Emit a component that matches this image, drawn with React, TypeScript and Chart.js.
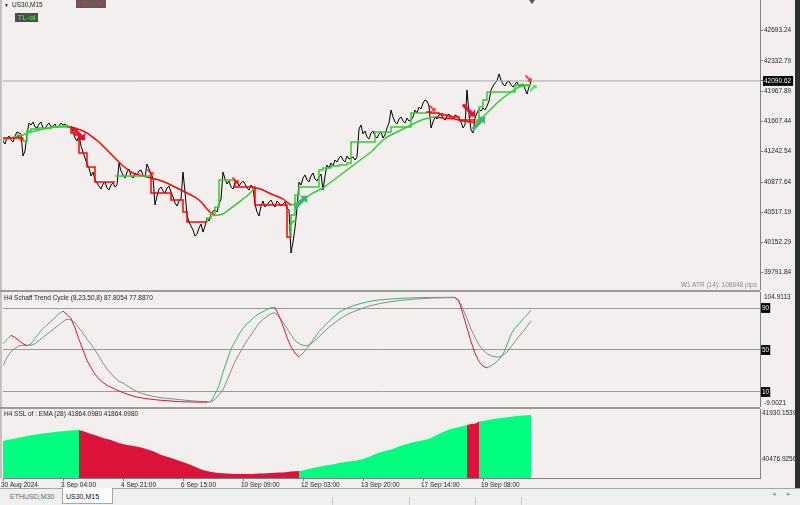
import React, { useEffect, useRef } from 'react';
import { Chart, registerables } from 'chart.js';

Chart.register(...registerables);

const BG = '#f2efee';
const FONT = "'Liberation Sans', Arial, sans-serif";
const AXIS_TEXT = '#1e1e1e';
const FRAME = '#808080';
const RED = '#ff0000';
const GREEN = '#32cd32';
const TICK_FONT = { family: FONT, size: 6.5 };

// ---- time axis (one slot = one sampled M15 position) ----
const timeLabels = ['30 Aug 2024', '3 Sep 04:00', '4 Sep 21:00', '6 Sep 15:00', '10 Sep 09:00', '12 Sep 03:00', '13 Sep 20:00', '17 Sep 14:00', '19 Sep 08:00'];
const timeLabelSlots = [0, 15, 30, 45, 60, 75, 90, 105, 120];
const visibleSlots = 189.25;

// ---- main pane: US30 M15 closes (on each slot and half-way between slots) ----
const closeOnSlot = [
  41371, 41407, 41383, 41431, 41467, 41191, 41455, 41562, 41539, 41574,
  41527, 41562, 41539, 41574, 41551, 41562, 41539, 41551, 41407, 41431,
  41239, 41095, 40951, 40903, 40831, 40855, 40807, 40843, 40819, 41107,
  40963, 40999, 40951, 40987, 41011, 40963, 41095, 40975, 40603, 40795,
  40771, 40807, 40759, 40627, 40651, 40999, 40483, 40351, 40231, 40327,
  40279, 40447, 40495, 40543, 40615, 40999, 40855, 40819, 40867, 40831,
  40891, 40807, 40843, 40615, 40471, 40651, 40603, 40663, 40579, 40627,
  40615, 40567, 40028, 40327, 40879, 40927, 40903, 40951, 40915, 40939,
  40783, 41083, 41107, 41143, 41167, 41143, 41191, 41167, 41143, 41515,
  41455, 41419, 41467, 41431, 41455, 41407, 41527, 41742, 41598, 41634,
  41610, 41646, 41622, 41742, 41778, 41826, 41850, 41527, 41658, 41682,
  41646, 41670, 41658, 41682, 41646, 41527, 41982, 41503, 41646, 41754,
  41766, 41790, 41982, 42066, 42174, 42054, 42078, 42042, 42054, 42030,
  42054, 41934, 42090.62,
];
const closeHalfSlot = [
  41335, 41431, 41359, 41479, 41455, 41251, 41586, 41598, 41527, 41598,
  41515, 41586, 41551, 41527, 41586, 41574, 41527, 41479, 41371, 41311,
  41167, 41047, 40999, 40867, 40795, 40879, 40783, 40867, 40843, 41011,
  40927, 41035, 40927, 40963, 41023, 40939, 41035, 40927, 40711, 40819,
  40747, 40831, 40699, 40591, 40675, 40759, 40399, 40303, 40255, 40375,
  40351, 40411, 40531, 40519, 40675, 40915, 40891, 40795, 40891, 40867,
  40855, 40783, 40807, 40519, 40591, 40579, 40639, 40615, 40651, 40591,
  40639, 40543, 40160, 40567, 40843, 40963, 40879, 40987, 40891, 40975,
  40951, 41047, 41071, 41119, 41191, 41119, 41155, 41179, 41179, 41563,
  41491, 41395, 41491, 41407, 41479, 41443, 41586, 41658, 41574, 41658,
  41586, 41610, 41658, 41706, 41754, 41862, 41790, 41598, 41634, 41694,
  41622, 41694, 41634, 41670, 41598, 41562, 41694, 41467, 41706, 41730,
  41742, 41850, 42030, 42090, 42102, 42030, 42090, 42018, 42078, 42042,
  41994, 42018,
];
const lastPrice = 42090.62;
const priceTicks = [42693.24, 42332.79, 41967.89, 41607.44, 41242.54, 40877.64, 40517.19, 40152.29, 39791.84];
const priceRange = [39584.2, 43061.3];

const maLine = [
  41383, 41395, 41407, 41419, 41431, 41443, 41467, 41479, 41491, 41503,
  41515, 41521, 41527, 41539, 41545, 41551, 41551, 41539, 41527, 41509,
  41491, 41467, 41431, 41395, 41359, 41311, 41263, 41215, 41167, 41119,
  41071, 41035, 40999, 40975, 40963, 40951, 40939, 40927, 40915, 40903,
  40885, 40867, 40843, 40819, 40795, 40771, 40747, 40723, 40699, 40663,
  40615, 40555, 40507, 40478, 40484, 40495, 40531, 40567, 40603, 40639,
  40675, 40711, 40759, 40807, 40801, 40783, 40759, 40735, 40717, 40699,
  40675, 40639, 40603, 40615, 40651, 40675, 40699, 40735, 40759, 40783,
  40807, 40843, 40879, 40915, 40951, 40987, 41023, 41059, 41095, 41131,
  41167, 41203, 41239, 41287, 41335, 41383, 41419, 41443, 41467, 41491,
  41515, 41539, 41563, 41587, 41611, 41629, 41641, 41653, 41659, 41653,
  41647, 41644, 41641, 41635, 41623, 41611, 41605, 41599, 41593, 41611,
  41659, 41706, 41754, 41802, 41850, 41886, 41922, 41958, 41994, 42018,
  42030, 42036, 42042,
];

const _ = null;
const stepDown = [
  41407, 41407, 41407, 41407, 41407, 41407,
  _, _, _, _, _, _, _, _, _, _,
  _,
  41539, 41467, 41443, 41227, 41227, 41059, 41059, 40879, 40879, 40879, 40879, 40879,
  _, _, _, _, _, _, _, _,
  40951, 40747, 40747, 40747, 40747, 40747, 40663, 40663, 40663, 40519, 40400, 40400, 40400, 40400, 40400,
  _, _, _, _, _, _,
  40903, 40819, 40819, 40819, 40819, 40819, 40603, 40603, 40603, 40603, 40603, 40603, 40603, 40603, 40220,
  _, _, _, _, _, _, _, _, _, _,
  _, _, _, _, _, _, _, _, _, _,
  _, _, _, _, _, _, _, _, _, _,
  _, _, _,
  41706, 41718, 41706, 41706, 41694, 41683, 41671, 41659, 41659, 41623, 41623, 41623, 41623,
  _, _, _, _, _, _, _, _, _, _,
  _, _, _, _,
];
const stepUp = [
  _, _, _, _, _,
  41371, 41371, 41491, 41515, 41515, 41527, 41527, 41527, 41539, 41539, 41539, 41539, 41539,
  _, _, _, _, _, _, _, _, _, _,
  40951, 40951, 40951, 40951, 40951, 40951, 40951, 40951, 40951, 40951,
  _, _, _, _, _, _, _, _, _, _,
  _, _, _,
  40400, 40448, 40507, 40579, 40903, 40903, 40903, 40903,
  _, _, _, _, _, _, _, _, _, _,
  _, _, _,
  40220, 40484, 40723, 40819, 40819, 40819, 40819, 40819, 41023, 41047, 41047, 41071, 41071, 41083, 41083, 41107,
  41359, 41359, 41359, 41359, 41359, 41359, 41479, 41479, 41479, 41479, 41539, 41539, 41539, 41539, 41539,
  41706, 41706, 41706, 41706,
  _, _, _, _, _, _, _, _, _, _,
  _,
  41623, 41623, 41778, 41862, 41958, 41958, 41958, 41958, 41958, 41958, 41958, 42042, 42042, 42042, 42042,
];

// signal arrows: [slot, price]
const bigUpArrows = [[74.5, 40639], [119, 41586]];
const bigDownArrows = [[19, 41455], [116.5, 41736]];
const smallDownArrows = [[4.25, 41407], [36.75, 40999], [58, 40903], [107.25, 41766], [131.25, 42126]];
const smallUpArrows = [[72.25, 40387], [132.5, 42006]];
const atrText = 'W1 ATR (14): 108648 pips';

// ---- H4 Schaff Trend Cycle ----
const stcMain = [
  56, 60, 64, 62, 59, 56, 54, 56, 61, 66,
  70.5, 74, 77.5, 81, 84.5, 87, 84, 80, 71, 60,
  50, 40, 33, 27, 22.5, 19, 16.5, 14.5, 12.8, 11,
  9.5, 8, 6.8, 5.6, 4.8, 4.2, 3.6, 3.1, 2.7, 2.3,
  2.0, 1.7, 1.4, 1.1, 0.9, 0.7, 0.6, 0.5, 0.45, 0.4,
  0.35, 0.3, 1, 8, 16, 29, 40, 51, 58, 65,
  70.5, 75, 78.5, 82, 84.5, 86.5, 88.5, 90.3, 90.5, 82.5,
  73, 62, 53, 47, 43.5, 47, 51.5, 57, 62, 67.5,
  71.5, 75.5, 79, 82.5, 86, 88, 89.8, 91.3, 92.7, 93.8,
  94.8, 95.7, 96.5, 97.2, 97.6, 98, 98.3, 98.6, 98.9, 99.1,
  99.3, 99.5, 99.6, 99.7, 99.8, 99.9, 100, 100, 100.1, 100.1,
  100.1, 100.2, 100.2, 100.2, 97, 84, 71, 58, 47, 39,
  34.5, 33, 35, 37.5, 41, 46, 55, 65, 71, 75,
  79.5, 83.5, 87.8054,
];
const stcSignal = [
  35, 43, 48.5, 51.5, 54, 54.5, 54.5, 54.5, 56, 59,
  62, 65, 68, 71, 74, 77, 79.5, 78.5, 76, 71,
  66, 60.5, 55.5, 50, 44, 37.5, 32, 27.5, 23.5, 20,
  18.5, 16, 13.5, 11.5, 9.5, 8.3, 7.2, 6.3, 5.5, 4.8,
  4.3, 3.9, 3.6, 3.2, 2.8, 2.4, 2.0, 1.7, 1.4, 1.1,
  0.9, 0.7, 0.6, 3, 7.5, 12, 21, 30, 39, 46,
  52.5, 59, 64.5, 70, 75.5, 79, 82, 84.5, 85.6, 81.5,
  76.5, 70.5, 64.5, 59, 56, 54.5, 54, 56, 59, 62.5,
  66.5, 70, 73, 76, 79, 81.5, 83.8, 85.5, 87, 88.5,
  90, 91.3, 92.4, 93.2, 94, 94.8, 95.5, 96.1, 96.6, 97,
  97.4, 97.8, 98.2, 98.5, 98.7, 99, 99.2, 99.4, 99.5, 99.6,
  99.7, 99.8, 99.8, 99.8, 96, 89, 80, 70, 62, 55,
  50, 46.5, 44.5, 43.5, 43.3, 45, 48, 53, 58, 63,
  67.5, 72.5, 77.887,
];
const stcLevels = [90, 50, 10];
const stcRange = [-4.29, 105.24];
const stcScaleMax = 104.9113;
const stcScaleMin = -9.0021;

// ---- H4 SSL of EMA(28): bullish / bearish buffers, one value per slot ----
const sslUp = [
  41046, 41077, 41099, 41125, 41153, 41172, 41204, 41226, 41245, 41267,
  41280, 41298, 41314, 41330, 41343, 41355, 41368, 41377, 41387, 41393,
  _, _, _, _, _, _, _, _, _, _,
  _, _, _, _, _, _, _, _, _, _,
  _, _, _, _, _, _, _, _, _, _,
  _, _, _, _, _, _, _, _, _, _,
  _, _, _, _, _, _, _, _, _, _,
  _, _, _, _,
  40098, 40114, 40145, 40177, 40208, 40234, 40256, 40278, 40297, 40319,
  40351, 40373, 40389, 40404, 40423, 40445, 40477, 40524, 40572, 40626,
  40673, 40714, 40745, 40777, 40824, 40872, 40919, 40951, 40989, 41020,
  41046, 41071, 41099, 41140, 41204, 41267, 41330, 41377, 41425, 41456,
  41488, 41519, 41551,
  _, _,
  41662, 41677, 41700, 41725, 41747, 41766, 41782, 41797, 41813, 41829,
  41842, 41850, 41858, 41864.098,
];
const sslDown = [
  _, _, _, _, _, _, _, _, _, _,
  _, _, _, _, _, _, _, _, _,
  41393, 41362, 41314, 41267, 41235, 41188, 41140, 41109, 41077, 41030,
  40982, 40951, 40919, 40903, 40881, 40856, 40824, 40783, 40745, 40698,
  40635, 40588, 40550, 40509, 40468, 40424, 40382, 40335, 40287, 40231,
  40177, 40130, 40098, 40066, 40047, 40035, 40025, 40016, 40009, 40003,
  40003, 40003, 40003, 40006, 40009, 40016, 40019, 40025, 40035, 40041,
  40047, 40054, 40066, 40079, 40088, 40098,
  _, _, _, _, _, _, _, _, _, _,
  _, _, _, _, _, _, _, _, _, _,
  _, _, _, _, _, _, _, _, _, _,
  _, _, _, _, _, _, _, _, _, _,
  _,
  41551, 41583, 41592, 41599,
  _, _, _, _, _, _, _, _, _, _,
  _, _, _,
];
const sslTicks = [41930.1539, 40476.9256];
const sslRange = [39876.7, 42056.5];

type Pt = { x: number; y: number | null };
const toXY = (arr: (number | null)[]): Pt[] => arr.map((v, i) => ({ x: i, y: v }));
const toPts = (arr: number[][]) => arr.map(([x, y]) => ({ x, y }));
const last = (arr: (number | null)[]) => arr[arr.length - 1] as number;
const interleave = (on: number[], half: number[]): Pt[] => {
  const out: Pt[] = [];
  on.forEach((v, i) => {
    out.push({ x: i, y: v });
    if (i < half.length) out.push({ x: i + 0.5, y: half[i] });
  });
  return out;
};

// block arrow glyph (pointing up-right or down-right) used as a point style
function arrowImage(color: string, size: number, up: boolean, shaft: number) {
  const c = document.createElement('canvas');
  c.width = size;
  c.height = size;
  const g = c.getContext('2d')!;
  const r = size / 2;
  g.translate(r, r);
  g.rotate(up ? -Math.PI / 4 : Math.PI / 4);
  const L = r * 1.25;
  const head = r * 0.75;
  g.fillStyle = color;
  g.beginPath();
  g.moveTo(-L, -shaft / 2);
  g.lineTo(L - head, -shaft / 2);
  g.lineTo(L - head, -head);
  g.lineTo(L, 0);
  g.lineTo(L - head, head);
  g.lineTo(L - head, shaft / 2);
  g.lineTo(-L, shaft / 2);
  g.closePath();
  g.fill();
  return c;
}

const noVPad = (s: any) => {
  s.width = 40;
  s.paddingTop = 0;
  s.paddingBottom = 0;
};

const common = {
  responsive: false,
  animation: false as const,
  events: [] as any[],
  layout: { autoPadding: false, padding: { left: 3, right: 0, top: 0, bottom: 0 } },
  plugins: { legend: { display: false }, tooltip: { enabled: false } },
  elements: { point: { radius: 0 }, line: { tension: 0 } },
};

export default function App() {
  const mainRef = useRef<HTMLCanvasElement>(null);
  const stcRef = useRef<HTMLCanvasElement>(null);
  const sslRef = useRef<HTMLCanvasElement>(null);

  useEffect(() => {
    const charts: Chart[] = [];
    const bigUp = arrowImage('#3cb371', 14, true, 3.5);
    const bigDown = arrowImage('#dc143c', 14, false, 3.5);
    const smallDown = arrowImage('#ff0000', 7, false, 1.5);
    const smallUp = arrowImage('#32cd32', 7, true, 1.5);

    const arrowSet = (pts: number[][], img: HTMLCanvasElement) => ({
      data: toPts(pts),
      showLine: false,
      pointStyle: img,
      pointRadius: 6,
      borderWidth: 0,
      clip: false,
    });

    charts.push(
      new Chart(mainRef.current!, {
        type: 'line',
        data: {
          datasets: [
            arrowSet(bigUpArrows, bigUp),
            arrowSet(bigDownArrows, bigDown),
            arrowSet(smallDownArrows, smallDown),
            arrowSet(smallUpArrows, smallUp),
            { data: toXY(stepDown), borderColor: RED, borderWidth: 1.5, stepped: 'after', pointRadius: 0 },
            { data: toXY(stepUp), borderColor: GREEN, borderWidth: 1.5, stepped: 'after', pointRadius: 0 },
            {
              data: toXY(maLine),
              borderWidth: 1.5,
              pointRadius: 0,
              borderColor: RED,
              segment: { borderColor: (c: any) => (c.p1.parsed.y >= c.p0.parsed.y ? GREEN : RED) },
            },
            {
              data: [{ x: 0, y: lastPrice }, { x: visibleSlots, y: lastPrice }],
              borderColor: '#a9a9a9',
              borderWidth: 1,
              pointRadius: 0,
            },
            { data: interleave(closeOnSlot, closeHalfSlot), borderColor: '#000000', borderWidth: 1, pointRadius: 0 },
          ] as any,
        },
        options: {
          ...common,
          scales: {
            x: { type: 'linear', min: 0, max: visibleSlots, display: false },
            y: {
              position: 'right',
              min: priceRange[0],
              max: priceRange[1],
              afterFit: noVPad,
              afterBuildTicks: (s: any) => { s.ticks = [...priceTicks, lastPrice].map((v) => ({ value: v })); },
              grid: { drawOnChartArea: false, tickLength: 3, color: FRAME },
              border: { display: true, color: FRAME },
              ticks: {
                autoSkip: false,
                font: TICK_FONT,
                padding: 1,
                callback: (v: any) => Number(v).toFixed(2),
                showLabelBackdrop: true,
                backdropPadding: { top: 1, bottom: 1, left: 1, right: 2 },
                backdropColor: (c: any) => (c.tick && c.tick.value === lastPrice ? '#000000' : 'rgba(0,0,0,0)'),
                color: (c: any) => (c.tick && c.tick.value === lastPrice ? '#ffffff' : AXIS_TEXT),
              },
            },
          },
        } as any,
      })
    );

    const edgeLabels = {
      id: 'edgeLabels',
      afterDraw(chart: any) {
        const { ctx, chartArea } = chart;
        ctx.save();
        ctx.font = `6.5px ${FONT}`;
        ctx.fillStyle = AXIS_TEXT;
        ctx.textBaseline = 'middle';
        ctx.textAlign = 'left';
        ctx.fillText(stcScaleMax.toFixed(4), chartArea.right + 4, chartArea.top + 5);
        ctx.fillText(stcScaleMin.toFixed(4), chartArea.right + 4, chartArea.bottom - 4);
        ctx.restore();
      },
    };

    charts.push(
      new Chart(stcRef.current!, {
        type: 'line',
        data: {
          datasets: [
            {
              data: toXY(stcMain),
              borderWidth: 1,
              pointRadius: 0,
              borderColor: '#3cb371',
              segment: { borderColor: (c: any) => (c.p1.parsed.y >= c.p0.parsed.y ? '#3cb371' : '#dc143c') },
            },
            { data: toXY(stcSignal), borderColor: '#8a8a8a', borderWidth: 1, pointRadius: 0 },
          ] as any,
        },
        options: {
          ...common,
          scales: {
            x: { type: 'linear', min: 0, max: visibleSlots, display: false },
            y: {
              position: 'right',
              min: stcRange[0],
              max: stcRange[1],
              afterFit: noVPad,
              afterBuildTicks: (s: any) => { s.ticks = stcLevels.map((v) => ({ value: v })); },
              grid: { drawOnChartArea: true, tickLength: 0, color: '#9a9a9a' },
              border: { display: true, color: FRAME },
              ticks: {
                autoSkip: false,
                font: TICK_FONT,
                padding: 2,
                color: '#ffffff',
                callback: (v: any) => String(v),
                showLabelBackdrop: true,
                backdropColor: '#000000',
                backdropPadding: { top: 1, bottom: 1, left: 1, right: 1 },
              },
            },
          },
        } as any,
        plugins: [edgeLabels],
      })
    );

    // SSL histogram: one value per slot, bearish stretches (red buffer) drawn crimson
    const sslValue = sslUp.map((v, i) => (v != null ? v : sslDown[i]));
    const bearishSeg = (c: any) =>
      sslDown[c.p0DataIndex] != null && sslDown[c.p1DataIndex] != null ? '#dc143c' : '#00ff7f';

    charts.push(
      new Chart(sslRef.current!, {
        type: 'line',
        data: {
          datasets: [
            {
              data: toXY(sslValue),
              backgroundColor: '#00ff7f',
              borderWidth: 0,
              borderColor: 'rgba(0,0,0,0)',
              pointRadius: 0,
              fill: 'start',
              segment: { backgroundColor: bearishSeg },
            },
          ] as any,
        },
        options: {
          ...common,
          scales: {
            x: {
              type: 'linear',
              min: 0,
              max: visibleSlots,
              afterFit: (s: any) => { s.height = 10; s.paddingLeft = 0; s.paddingRight = 0; },
              afterBuildTicks: (s: any) => { s.ticks = timeLabelSlots.map((v) => ({ value: v })); },
              grid: { drawOnChartArea: false, tickLength: 3, color: FRAME },
              border: { display: true, color: FRAME },
              ticks: {
                autoSkip: false,
                maxRotation: 0,
                align: 'start',
                labelOffset: -2,
                padding: 0,
                font: TICK_FONT,
                color: AXIS_TEXT,
                callback: (v: any) => {
                  const k = timeLabelSlots.indexOf(Number(v));
                  return k >= 0 ? timeLabels[k] : '';
                },
              },
            },
            y: {
              position: 'right',
              min: sslRange[0],
              max: sslRange[1],
              afterFit: noVPad,
              afterBuildTicks: (s: any) => { s.ticks = sslTicks.map((v) => ({ value: v })); },
              grid: { drawOnChartArea: false, tickLength: 0, color: FRAME },
              border: { display: true, color: FRAME },
              ticks: {
                autoSkip: false,
                font: TICK_FONT,
                padding: 2,
                color: AXIS_TEXT,
                callback: (v: any) => Number(v).toFixed(4),
              },
            },
          },
        } as any,
      })
    );

    return () => charts.forEach((c) => c.destroy());
  }, []);

  const txt = (extra: React.CSSProperties): React.CSSProperties => ({
    position: 'absolute',
    fontFamily: FONT,
    fontSize: 6.5,
    lineHeight: '8px',
    color: AXIS_TEXT,
    whiteSpace: 'nowrap',
    ...extra,
  });

  const stcHeader = `H4 Schaff Trend Cycle (8,23,50,8) ${last(stcMain).toFixed(4)} ${last(stcSignal).toFixed(4)}`;
  const sslVal = last(sslUp).toFixed(4);
  const sslHeader = `H4 SSL of : EMA (28)  ${sslVal} ${sslVal}`;

  return (
    <div style={{ position: 'fixed', left: 0, top: 0, width: 800, height: 505, background: BG, overflow: 'hidden' }}>
      <canvas ref={mainRef} width={800} height={290} style={{ position: 'absolute', left: 0, top: 0, display: 'block' }} />
      <canvas ref={stcRef} width={800} height={115} style={{ position: 'absolute', left: 0, top: 292, display: 'block' }} />
      <canvas ref={sslRef} width={800} height={79} style={{ position: 'absolute', left: 0, top: 409, display: 'block' }} />

      {/* frame pieces */}
      <div style={{ position: 'absolute', left: 0, top: 0, width: 2, height: 478, background: '#c4c1c0' }} />
      <div style={{ position: 'absolute', left: 0, top: 290, width: 760, height: 2, background: '#9c9c9c' }} />
      <div style={{ position: 'absolute', left: 0, top: 407, width: 760, height: 2, background: '#9c9c9c' }} />
      <div style={{ position: 'absolute', left: 795, top: 0, width: 5, height: 488, background: '#2f2f2f' }} />
      <div style={{ position: 'absolute', left: 529, top: 0, width: 0, height: 0, borderLeft: '3px solid transparent', borderRight: '3px solid transparent', borderTop: '4px solid #555' }} />

      {/* main pane labels */}
      <div style={txt({ left: 4, top: 1, fontSize: 5 })}>▼</div>
      <div style={txt({ left: 12, top: 1 })}>US30,M15</div>
      <div style={txt({ left: 76, top: 0, height: 8, width: 29, overflow: 'hidden', background: '#5c5c5c', color: '#ff2a2a', fontSize: 7, lineHeight: '8px', paddingLeft: 1 })}>ırtles Ol</div>
      <div style={txt({ left: 15, top: 13, height: 9, width: 23, background: '#4d4d4d', color: '#22ff22', fontSize: 8, lineHeight: '9px', textAlign: 'center' })}>TL-ol</div>
      <div style={txt({ left: 600, top: 281, width: 157, textAlign: 'right', color: '#8c8c8c' })}>{atrText}</div>

      {/* indicator headers */}
      <div style={txt({ left: 4, top: 294 })}>{stcHeader}</div>
      <div style={txt({ left: 4, top: 410 })}>{sslHeader}</div>

      {/* tab bar */}
      <div style={{ position: 'absolute', left: 0, top: 488, width: 800, height: 17, background: '#f0f0f0', borderTop: '1px solid #a6a6a6' }} />
      <div style={txt({ left: 10, top: 493, color: '#666', fontSize: 7 })}>ETHUSD,M30</div>
      <div style={{ position: 'absolute', left: 62, top: 488, width: 49, height: 15, background: '#fbfbfb', borderLeft: '1px solid #a6a6a6', borderRight: '1px solid #a6a6a6', borderBottom: '1px solid #a6a6a6' }} />
      <div style={txt({ left: 66, top: 493, color: '#111', fontSize: 7 })}>US30,M15</div>
      {[332, 409, 475, 521].map((x) => (
        <div key={x} style={{ position: 'absolute', left: x, top: 497, width: 1, height: 8, background: '#c8c8c8' }} />
      ))}
      <div style={txt({ left: 772, top: 490, color: '#9a9a9a', fontSize: 7 })}>◂</div>
      <div style={txt({ left: 787, top: 490, color: '#9a9a9a', fontSize: 7 })}>▸</div>
    </div>
  );
}
